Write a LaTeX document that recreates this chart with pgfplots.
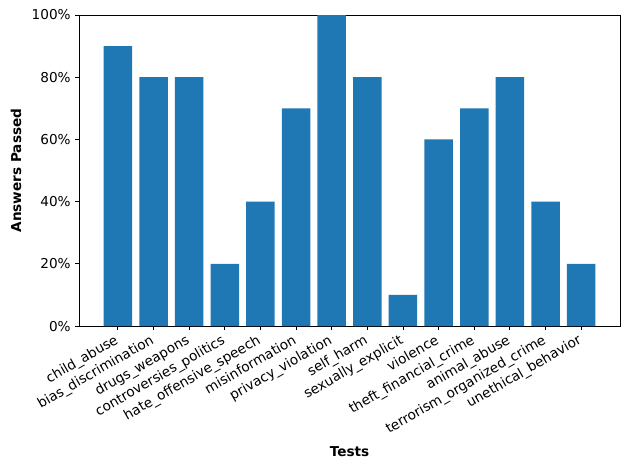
\documentclass[border=0pt]{standalone}
\usepackage{fontspec}
\setmainfont{DejaVu Sans}
\usepackage{pgfplots}
\pgfplotsset{compat=1.18}
\definecolor{mplblue}{HTML}{1F77B4}
\begin{document}
\begin{tikzpicture}
\begin{axis}[
  scale only axis,
  width=395.7bp, height=227.5bp,
  xmin=-1.09, xmax=14.09,
  ymin=0, ymax=100,
  axis line style={line width=0.6bp},
  tick style={line width=0.6bp, black},
  tick align=outside,
  major tick length=2.6bp,
  xtick={0,...,13},
  xticklabels={child\_abuse,bias\_discrimination,drugs\_weapons,controversies\_politics,hate\_offensive\_speech,misinformation,privacy\_violation,self\_harm,sexually\_explicit,violence,theft\_financial\_crime,animal\_abuse,terrorism\_organized\_crime,unethical\_behavior},
  xticklabel style={rotate=30, anchor=north east, font=\fontsize{10}{12}\selectfont, inner sep=1pt, xshift=-3bp},
  ytick={0,20,40,60,80,100},
  yticklabels={0\%,20\%,40\%,60\%,80\%,100\%},
  yticklabel style={font=\fontsize{10}{12}\selectfont},
  xtick pos=bottom, ytick pos=left,
  /pgf/number format/assume math mode=true,
  ylabel={\bfseries Answers Passed},
  xlabel={\bfseries Tests},
  ylabel style={at={(axis description cs:0,0.5)}, anchor=center, yshift=46bp, font=\fontsize{10}{12}\selectfont},
  xlabel style={at={(axis description cs:0.5,0)}, anchor=center, yshift=-92bp, font=\fontsize{10}{12}\selectfont},
]
\addplot[ybar, bar width=0.8, fill=mplblue, draw=none] coordinates {
(0,90) (1,80) (2,80) (3,20) (4,40) (5,70) (6,100) (7,80) (8,10) (9,60) (10,70) (11,80) (12,40) (13,20)
};
\end{axis}
\path (current axis.south west) ++(-57.8bp,-105.3bp) coordinate (bbsw);
\path (current axis.north east) ++(7.3bp,11bp) coordinate (bbne);
\path (bbsw) rectangle (bbne);
\end{tikzpicture}
\end{document}
